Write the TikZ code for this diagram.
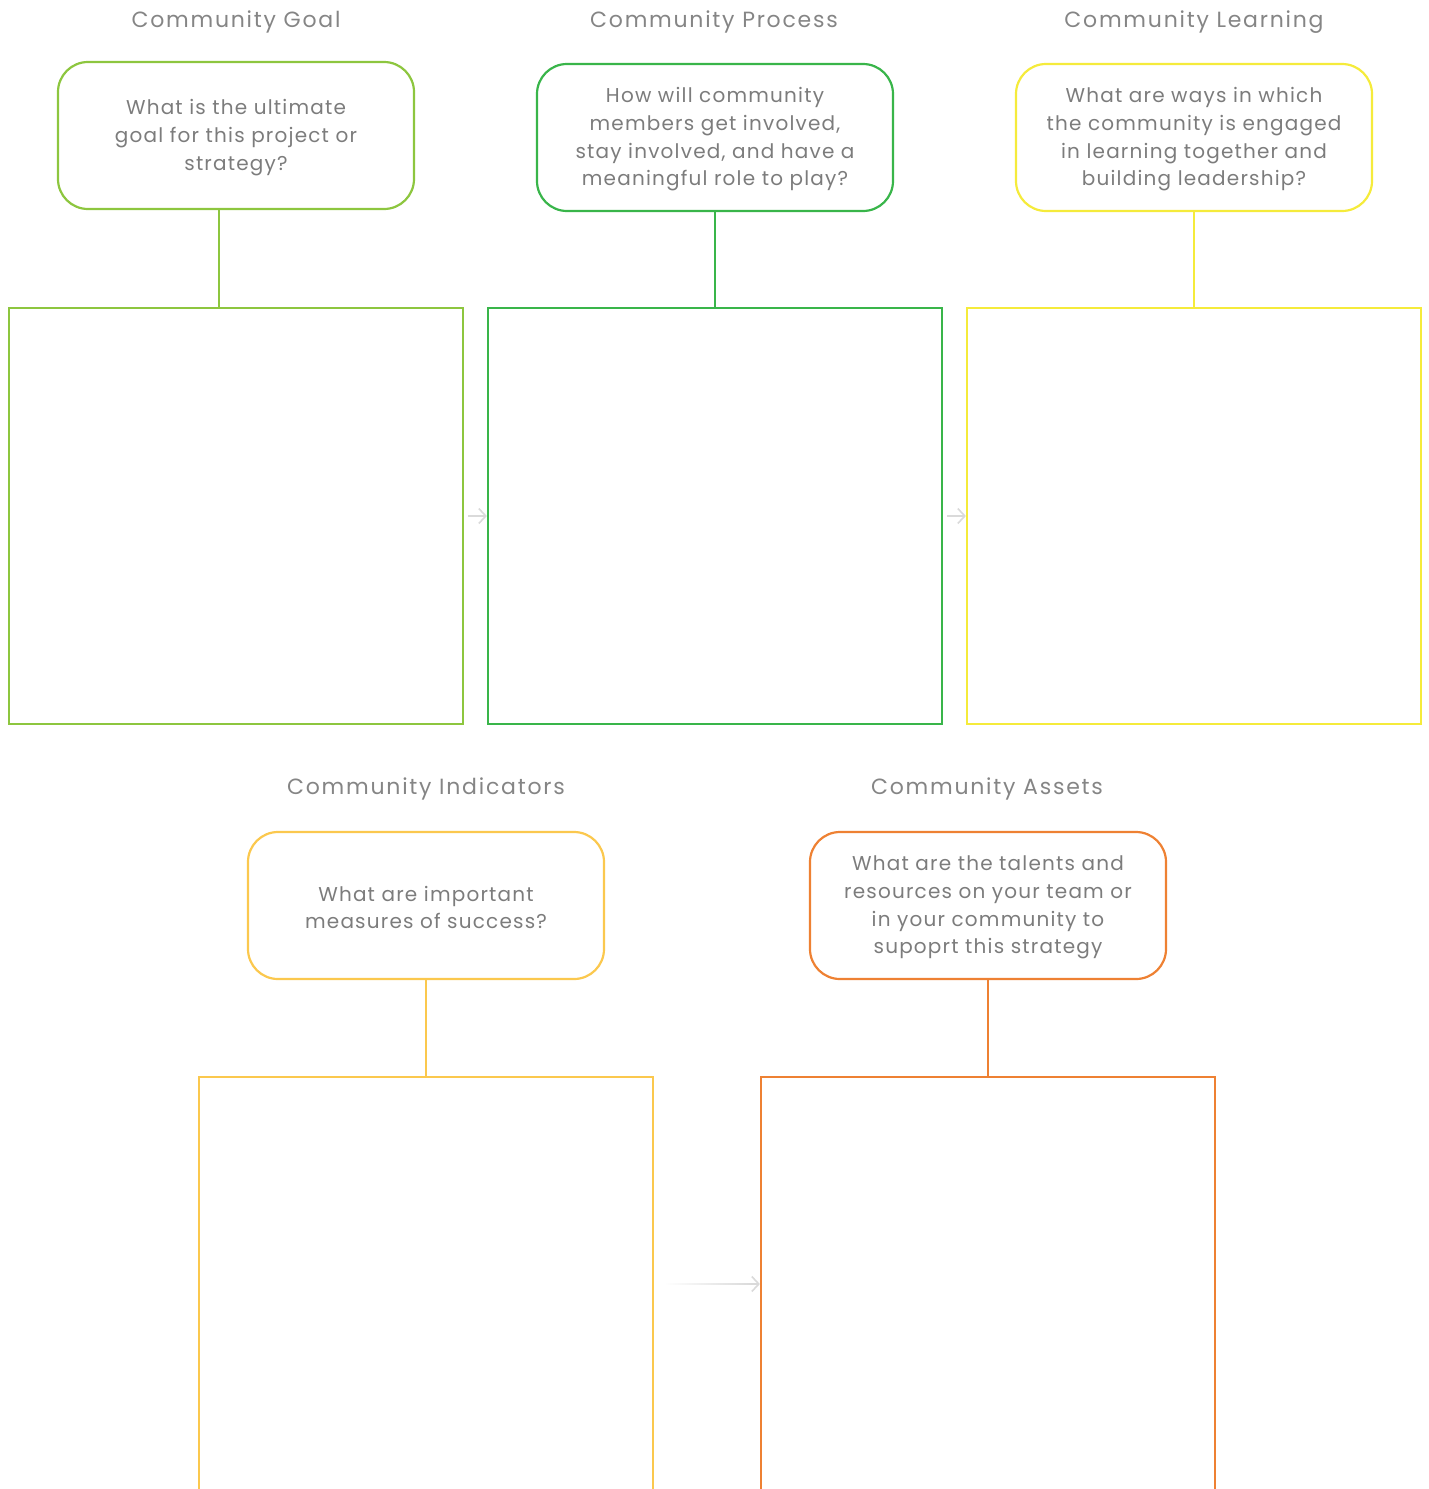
\documentclass[tikz,border=0pt]{standalone}
\usepackage{fontspec}
\setmainfont{Poppins}[LetterSpace=6]
\newfontfamily\titlefont{Poppins}[LetterSpace=8]
\usetikzlibrary{arrows.meta}
\definecolor{cgoal}{HTML}{8DC63F}
\definecolor{cproc}{HTML}{39B54A}
\definecolor{clearn}{HTML}{F5EB3B}
\definecolor{cind}{HTML}{FBC84E}
\definecolor{cass}{HTML}{EE8133}
\definecolor{ctext}{HTML}{7C7C7C}
\definecolor{ctitle}{HTML}{858585}
\definecolor{carrow}{HTML}{DADADA}
\tikzset{
  title/.style={text=ctitle, font=\titlefont\fontsize{22}{26}\selectfont, inner sep=0pt},
  qbox/.style={draw=#1, line width=2.2pt, rounded corners=30pt, minimum width=356pt, minimum height=147pt, inner sep=0pt},
  qtext/.style={text=ctext, align=center, font=\fontsize{20}{27.7}\selectfont},
  bigbox/.style={draw=#1, line width=2.2pt, inner sep=0pt},
  link/.style={draw=#1, line width=2.2pt},
  flow/.style={draw=carrow, line width=1.6pt, -{Straight Barb[length=7pt,width=15pt,line width=1.6pt]}},
}
\begin{document}
\begin{tikzpicture}[x=1pt,y=-1pt]
\useasboundingbox (0,0) rectangle (1429,1489);
\clip (0,0) rectangle (1429,1489);
% titles
\node[title] (tg) at (236,22) {Community Goal};
\node[title] (tp) at (714,22) {Community Process};
\node[title] (tl) at (1194,22) {Community Learning};
\node[title] (ti) at (426,789) {Community Indicators};
\node[title] (ta) at (987,789) {Community Assets};
% question boxes
\node[qbox=cgoal] (qg) at (236,135.5) {};
\node[qtext] (xg) at (236,137.5) {What is the ultimate\\goal for this project or\\strategy?};
\node[qbox=cproc] (qp) at (715,137.5) {};
\node[qtext] (xp) at (715,139.5) {How will community\\members get involved,\\stay involved, and have a\\meaningful role to play?};
\node[qbox=clearn] (ql) at (1194,137.5) {};
\node[qtext] (xl) at (1194,139.5) {What are ways in which\\the community is engaged\\in learning together and\\building leadership?};
\node[qbox=cind] (qi) at (426,905.5) {};
\node[qtext] (xi) at (426,907.5) {What are important\\measures of success?};
\node[qbox=cass] (qa) at (988,905.5) {};
\node[qtext] (xa) at (988,907.5) {What are the talents and\\resources on your team or\\in your community to\\supoprt this strategy};
% big boxes
\node[bigbox=cgoal, minimum width=454pt, minimum height=416pt] (bg) at (236,516) {};
\node[bigbox=cproc, minimum width=454pt, minimum height=416pt] (bp) at (715,516) {};
\node[bigbox=clearn, minimum width=454pt, minimum height=416pt] (bl) at (1194,516) {};
\node[bigbox=cind, minimum width=454pt, minimum height=460pt] (bi) at (426,1307) {};
\node[bigbox=cass, minimum width=454pt, minimum height=460pt] (ba) at (988,1307) {};
% links
\draw[link=cgoal] (qg.south -| 219,0) -- (bg.north -| 219,0);
\draw[link=cproc] (qp.south) -- (bp.north);
\draw[link=clearn] (ql.south) -- (bl.north);
\draw[link=cind] (qi.south) -- (bi.north);
\draw[link=cass] (qa.south) -- (ba.north);
% flow arrows
\coordinate (f1) at (468,516);
\coordinate (f2) at (947,516);
\coordinate (f3) at (665,1284);
\draw[flow] (f1) -- (bp.west |- f1);
\draw[flow] (f2) -- (bl.west |- f2);
\draw[flow] (f3) -- (ba.west |- f3);
\shade[left color=white, right color=carrow] (664,1283.1) rectangle (752,1284.9);
\end{tikzpicture}
\end{document}
